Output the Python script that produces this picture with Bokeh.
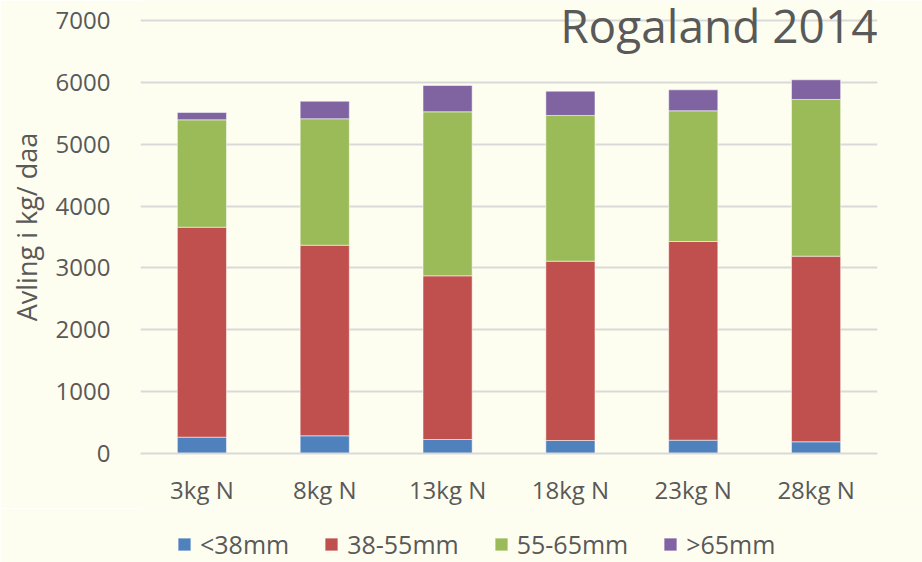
from bokeh.plotting import figure
from bokeh.models import ColumnDataSource, Legend, Label, FixedTicker, FactorRange, Range1d
from bokeh.layouts import column
from bokeh.embed import file_html
from bokeh.resources import INLINE

categories = ["3kg N", "8kg N", "13kg N", "18kg N", "23kg N", "28kg N"]
series_names = ["<38mm", "38-55mm", "55-65mm", ">65mm"]
under_38 = [264, 286, 226, 210, 215, 189]
s38_55 = [3394, 3081, 2646, 2899, 3212, 3001]
s55_65 = [1736, 2044, 2652, 2355, 2113, 2533]
over_65 = [118, 284, 425, 393, 339, 318]
y_ticks = [0, 1000, 2000, 3000, 4000, 5000, 6000, 7000]
colors = ["#4F81BD", "#C0504D", "#9BBB59", "#8064A2"]
title_text = "Rogaland 2014"
y_label = "Avling i kg/ daa"

BG = "#FEFEF0"
TXT = "#595959"
FONT = "Open Sans"

keys = ["a", "b", "c", "d"]
source = ColumnDataSource(data=dict(cat=categories, a=under_38, b=s38_55, c=s55_65, d=over_65))

p = figure(x_range=FactorRange(*categories), y_range=(0, 7323),
           frame_width=737, frame_height=453, output_backend="svg", toolbar_location=None,
           min_border_left=140, min_border_right=45, min_border_top=0, min_border_bottom=50)
p.background_fill_color = BG
p.border_fill_color = BG
p.outline_line_color = None

renderers = p.vbar_stack(keys, x="cat", width=0.4, source=source, color=colors,
                         line_color="white", line_alpha=0.5, line_width=1)

p.xgrid.grid_line_color = None
p.ygrid.grid_line_color = "#D9D9D9"
p.ygrid.grid_line_width = 2
p.yaxis.ticker = FixedTicker(ticks=y_ticks)

for ax in (p.xaxis, p.yaxis):
    ax.major_tick_line_color = None
    ax.minor_tick_line_color = None
    ax.major_label_text_font = FONT
    ax.major_label_text_font_size = "24px"
    ax.major_label_text_color = TXT
p.yaxis.axis_line_color = None
p.xaxis.axis_line_color = "#D9D9D9"
p.xaxis.axis_line_width = 2
p.yaxis.major_label_standoff = 24
p.xaxis.major_label_standoff = 13
p.yaxis.axis_label = y_label
p.yaxis.axis_label_text_font = FONT
p.yaxis.axis_label_text_font_size = "27px"
p.yaxis.axis_label_text_font_style = "normal"
p.yaxis.axis_label_text_color = TXT
p.yaxis.axis_label_standoff = 8

title = Label(x=6, y=6935, text=title_text, text_align="right", text_baseline="alphabetic",
              text_font=FONT, text_font_size="46px", text_color=TXT)
p.add_layout(title)

# legend strip below the chart (hidden proxy glyphs carry the series colours)
lp = figure(x_range=Range1d(0, 1), y_range=Range1d(0, 1), frame_width=922, frame_height=59,
            output_backend="svg", toolbar_location=None,
            min_border_left=0, min_border_right=0, min_border_top=0, min_border_bottom=0)
lp.background_fill_color = BG
lp.border_fill_color = BG
lp.outline_line_color = None
lp.axis.visible = False
lp.grid.visible = False
proxies = []
for c in colors:
    r = lp.vbar(x=[0], top=[0], width=0, color=c, line_color="white", line_alpha=0.5)
    r.visible = False
    proxies.append(r)
legend = Legend(items=[(n, [r]) for n, r in zip(series_names, proxies)],
                orientation="horizontal", location=(176, 6),
                glyph_width=16, glyph_height=16, label_standoff=8, spacing=34,
                label_text_font=FONT, label_text_font_size="25px", label_text_color=TXT,
                border_line_color=None, background_fill_alpha=0,
                inactive_fill_alpha=0, padding=4, margin=0)
lp.add_layout(legend, "center")

layout = column(p, lp, spacing=0)

html = file_html(layout, INLINE)
html = html.replace("<body>", '<body style="background:%s">' % BG, 1)
open("out.html", "w").write(html)
